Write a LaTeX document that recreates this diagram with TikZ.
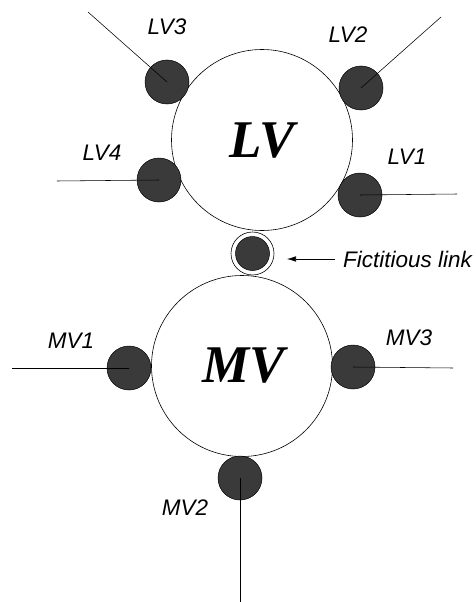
\documentclass[tikz,border=0pt]{standalone}
\usepackage{fontspec}
\setmainfont{Liberation Serif}
\setsansfont{Liberation Sans}
\usetikzlibrary{arrows.meta}
\definecolor{feederfill}{HTML}{3A3A3A}
\tikzset{
  bus/.style={circle, draw=black, line width=0.6pt, fill=white, minimum size=181pt, inner sep=0pt},
  feeder/.style={circle, draw=black, line width=0.5pt, fill=feederfill, minimum size=44pt, inner sep=0pt},
  ring/.style={circle, draw=black, line width=0.6pt, fill=white, minimum size=43pt, inner sep=0pt},
  tag/.style={font=\sffamily\itshape\fontsize{22.5}{24}\selectfont, inner sep=0pt},
  busname/.style={font=\rmfamily\bfseries\itshape\fontsize{53}{56}\selectfont, inner sep=0pt},
  wire/.style={draw=black, line width=0.55pt},
}
\begin{document}
\begin{tikzpicture}[x=1pt, y=-1pt]
\useasboundingbox (0,0) rectangle (476,602);

% the two busbars
\node[bus] (LV) at (262,140) {};
\node[bus] (MV) at (242,366) {};
\node[busname] at (262,141) {LV};
\node[busname] at (244,366) {MV};

% fictitious link between the busbars
\node[ring] (fl) at (252.5,253.5) {};
\node[feeder, minimum size=34pt] (flc) at (252.5,253.5) {};

% feeders on the LV busbar
\node[feeder] (lv1) at (360,195) {};
\node[feeder] (lv2) at (361,88) {};
\node[feeder] (lv3) at (167,82) {};
\node[feeder] (lv4) at (159,180) {};

% feeders on the MV busbar
\node[feeder] (mv1) at (129,368) {};
\node[feeder] (mv2) at (240,478) {};
\node[feeder] (mv3) at (353,367) {};

% free ends of the feeder lines
\coordinate (lv1e) at (457,194);
\coordinate (lv2e) at (441,17);
\coordinate (lv3e) at (88,12);
\coordinate (lv4e) at (57,181);
\coordinate (mv1e) at (12,368);
\coordinate (mv2e) at (240,602);
\coordinate (mv3e) at (453,368);

\draw[wire] (lv1.center) -- (lv1e);
\draw[wire] (lv2.center) -- (lv2e);
\draw[wire] (lv3.center) -- (lv3e);
\draw[wire] (lv4.center) -- (lv4e);
\draw[wire] (mv1.center) -- (mv1e);
\draw[wire] (mv2.center) -- (mv2e);
\draw[wire] (mv3.center) -- (mv3e);

% labels
\node[tag] at (407,157) {LV1};
\node[tag] at (348,35) {LV2};
\node[tag] at (167,27) {LV3};
\node[tag] at (102,153) {LV4};
\node[tag] at (71,341) {MV1};
\node[tag] at (185,508) {MV2};
\node[tag] at (409,338) {MV3};

\node[tag, anchor=west, font=\sffamily\itshape\fontsize{22.5}{24}\selectfont] (fltext) at (343,259) {Fictitious link};
\coordinate (arrtip) at (287,259);
\draw[wire, -{Latex[length=9pt,width=5.5pt]}] (335,259) -- (arrtip);
\end{tikzpicture}
\end{document}
